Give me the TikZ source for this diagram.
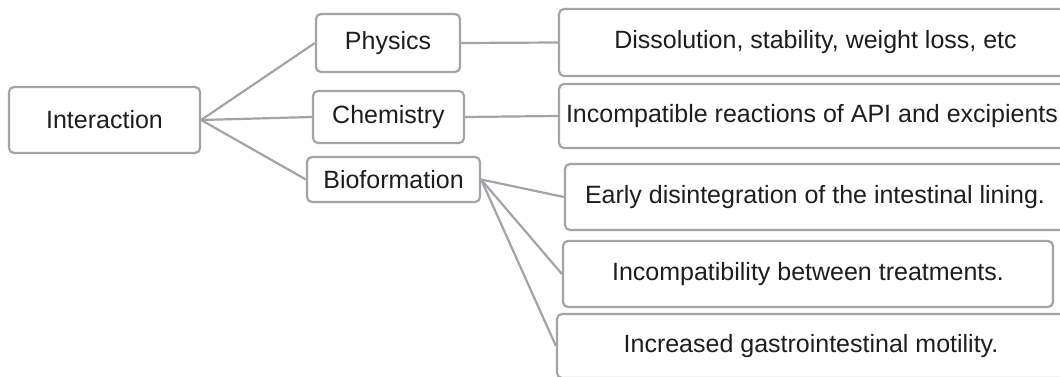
\documentclass[tikz,border=0pt]{standalone}
\usepackage{fontspec}
\setmainfont{Liberation Sans}
\definecolor{edgegray}{RGB}{163,163,168}
\definecolor{ink}{RGB}{30,30,30}
\begin{document}
\begin{tikzpicture}[x=1pt,y=-1pt,
  box/.style={draw=edgegray, line width=2.2pt, rounded corners=5pt, fill=white,
    inner sep=0pt, text=ink, font=\fontsize{25}{30}\selectfont},
  link/.style={draw=edgegray, line width=2.2pt}]
\path[use as bounding box, clip] (0,0) rectangle (1060,377);
\node[box, minimum width=191pt, minimum height=66pt] (inter) at (104.5,120) {Interaction};
\node[box, minimum width=144pt, minimum height=58pt] (phys) at (388,43) {Physics};
\node[box, minimum width=151pt, minimum height=52pt] (chem) at (388.5,117) {Chemistry};
\node[box, minimum width=173pt, minimum height=45pt] (bio) at (393.5,179.5) {Bioformation};
\node[box, minimum width=513pt, minimum height=67pt] (diss) at (815.5,42.5) {Dissolution, stability, weight loss, etc};
\node[box, minimum width=506pt, minimum height=64pt] (incr) at (812,116) {Incompatible reactions of API and excipients};
\node[box, minimum width=500pt, minimum height=66pt] (early) at (815,197) {Early disintegration of the intestinal lining.};
\node[box, minimum width=490pt, minimum height=66pt] (incomp) at (808,274) {Incompatibility between treatments.};
\node[box, minimum width=508pt, minimum height=64pt] (incg) at (811,346) {Increased gastrointestinal motility.};
\draw[link] (inter.east) -- (phys.west);
\draw[link] (inter.east) -- (chem.west);
\draw[link] (inter.east) -- (bio.west);
\draw[link] (phys.east) -- (diss.west);
\draw[link] (chem.east) -- (incr.west);
\draw[link] (bio.east) -- (early.west);
\draw[link] (bio.east) -- (incomp.west);
\draw[link] (bio.east) -- (incg.west);
\end{tikzpicture}
\end{document}
